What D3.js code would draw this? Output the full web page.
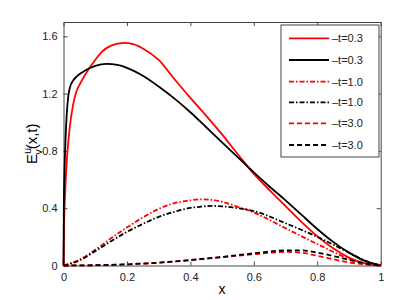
<!DOCTYPE html>
<html>
<head>
<meta charset="utf-8">
<script src="https://cdn.jsdelivr.net/npm/d3@7"></script>
<style>
  body { margin: 0; background: #fff; }
  svg { font-family: "Liberation Sans", Arial, sans-serif; }
  .axis text { font-size: 11px; fill: #222; }
  .axis path, .axis line { stroke: #444; }
</style>
</head>
<body>
<svg id="chart" width="409" height="300"></svg>
<script>
// values
var xTicks = [0, 0.2, 0.4, 0.6, 0.8, 1];
var yTicks = [0, 0.4, 0.8, 1.2, 1.6];

var xRedSolid = [0, 0.002, 0.005, 0.01, 0.015, 0.02, 0.03, 0.04, 0.05, 0.06, 0.078, 0.1, 0.12, 0.15, 0.19, 0.22, 0.25, 0.3, 0.35, 0.4, 0.45, 0.5, 0.55, 0.6, 0.65, 0.7, 0.75, 0.8, 0.85, 0.9, 0.95, 1];
var yRedSolid = [0, 0.3, 0.5, 0.72, 0.86, 0.97, 1.12, 1.21, 1.26, 1.3, 1.367, 1.435, 1.49, 1.535, 1.554, 1.545, 1.515, 1.435, 1.3, 1.17, 1.045, 0.915, 0.775, 0.64, 0.525, 0.415, 0.305, 0.205, 0.12, 0.055, 0.015, 0];

var xBlackSolid = [0, 0.001, 0.003, 0.005, 0.01, 0.015, 0.02, 0.03, 0.042, 0.06, 0.08, 0.1, 0.136, 0.17, 0.2, 0.25, 0.3, 0.35, 0.4, 0.45, 0.5, 0.55, 0.6, 0.65, 0.7, 0.75, 0.8, 0.85, 0.9, 0.95, 1];
var yBlackSolid = [0, 0.4, 0.65, 0.8, 1.05, 1.18, 1.24, 1.29, 1.32, 1.35, 1.375, 1.393, 1.407, 1.4, 1.38, 1.325, 1.25, 1.165, 1.07, 0.965, 0.86, 0.755, 0.65, 0.55, 0.455, 0.355, 0.255, 0.165, 0.09, 0.032, 0];

var xMid = [0, 0.05, 0.1, 0.15, 0.2, 0.25, 0.3, 0.35, 0.4, 0.43, 0.47, 0.5, 0.55, 0.6, 0.7, 0.8, 0.9, 0.95, 1];
var yRedDashDot   = [0, 0.04, 0.11, 0.19, 0.265, 0.335, 0.395, 0.435, 0.455, 0.462, 0.458, 0.445, 0.41, 0.37, 0.26, 0.15, 0.048, 0.015, 0];
var yBlackDashDot = [0, 0.035, 0.1, 0.17, 0.235, 0.29, 0.34, 0.375, 0.402, 0.41, 0.416, 0.413, 0.4, 0.38, 0.295, 0.2, 0.09, 0.035, 0];

var xLate = [0, 0.1, 0.2, 0.3, 0.4, 0.5, 0.6, 0.7, 0.75, 0.8, 0.9, 0.95, 1];
var yRedDash   = [0, 0.002, 0.008, 0.02, 0.037, 0.058, 0.078, 0.095, 0.09, 0.068, 0.022, 0.007, 0];
var yBlackDash = [0, 0.002, 0.008, 0.02, 0.038, 0.06, 0.085, 0.105, 0.106, 0.09, 0.04, 0.015, 0];

var legendLabels = ['\u2013t=0.3', '\u2013t=0.3', '\u2013t=1.0', '\u2013t=1.0', '\u2013t=3.0', '\u2013t=3.0'];

var margin = { top: 22, right: 28, bottom: 34, left: 63.5 };
var width = 380.7 - margin.left;
var height = 265.5 - margin.top;

var svg = d3.select('#chart');
var g = svg.append('g')
    .attr('transform', 'translate(' + margin.left + ',' + margin.top + ')');

var x = d3.scaleLinear().domain([0, 1]).range([0, width]);
var y = d3.scaleLinear().domain([0, 1.7]).range([height, 0]);

// frame + inward ticks on all sides (matlab box)
g.append('g')
    .attr('class', 'axis')
    .attr('transform', 'translate(0,' + height + ')')
    .call(d3.axisBottom(x).tickValues(xTicks).tickFormat(d3.format('')).tickSizeInner(-4).tickSizeOuter(0).tickPadding(8));
g.append('g')
    .attr('class', 'axis')
    .call(d3.axisTop(x).tickValues(xTicks).tickFormat('').tickSizeInner(-4).tickSizeOuter(0));
g.append('g')
    .attr('class', 'axis')
    .call(d3.axisLeft(y).tickValues(yTicks).tickFormat(d3.format('')).tickSizeInner(-4).tickSizeOuter(0).tickPadding(6));
g.append('g')
    .attr('class', 'axis')
    .attr('transform', 'translate(' + width + ',0)')
    .call(d3.axisRight(y).tickValues(yTicks).tickFormat('').tickSizeInner(-4).tickSizeOuter(0));

var series = [
    { xs: xRedSolid, ys: yRedSolid, color: '#ff0000', dash: null },
    { xs: xBlackSolid, ys: yBlackSolid, color: '#000', dash: null },
    { xs: xMid, ys: yRedDashDot, color: '#ff0000', dash: '5,2,1.5,2' },
    { xs: xMid, ys: yBlackDashDot, color: '#000', dash: '5,2,1.5,2' },
    { xs: xLate, ys: yRedDash, color: '#ff0000', dash: '5,3' },
    { xs: xLate, ys: yBlackDash, color: '#000', dash: '5,3' }
];

var line = d3.line()
    .x(function(d) { return x(d[0]); })
    .y(function(d) { return y(d[1]); })
    .curve(d3.curveMonotoneX);

series.forEach(function(s) {
    g.append('path')
        .datum(d3.zip(s.xs, s.ys))
        .attr('fill', 'none')
        .attr('stroke', s.color)
        .attr('stroke-width', 1.8)
        .attr('stroke-dasharray', s.dash)
        .attr('d', line);
});

// legend
var lg = svg.append('g').attr('transform', 'translate(281,25)');
lg.append('rect')
    .attr('width', 98).attr('height', 132)
    .attr('fill', '#fff').attr('stroke', '#444').attr('stroke-width', 1);
var rowY = [13.3, 35, 56.7, 77.3, 98.3, 120];
series.forEach(function(s, i) {
    lg.append('line')
        .attr('x1', 8).attr('x2', 48)
        .attr('y1', rowY[i]).attr('y2', rowY[i])
        .attr('stroke', s.color).attr('stroke-width', 1.8)
        .attr('stroke-dasharray', s.dash);
    lg.append('text')
        .attr('x', 51).attr('y', rowY[i]).attr('dy', '0.35em')
        .style('font-size', '11px').attr('fill', '#222')
        .text(legendLabels[i]);
});

// axis labels
svg.append('text')
    .attr('x', margin.left + width / 2).attr('y', 294)
    .attr('text-anchor', 'middle')
    .style('font-size', '14px')
    .text('x');

var yl = svg.append('text')
    .attr('transform', 'translate(37,' + (margin.top + height / 2) + ') rotate(-90)')
    .attr('text-anchor', 'middle')
    .style('font-size', '15px');
yl.append('tspan').text('E');
yl.append('tspan').attr('dy', -6).style('font-size', '11px').text('u');
yl.append('tspan').attr('dx', -7).attr('dy', 11).style('font-size', '11px').text('v');
yl.append('tspan').attr('dy', -5).text('(x,t)');
</script>
</body>
</html>
